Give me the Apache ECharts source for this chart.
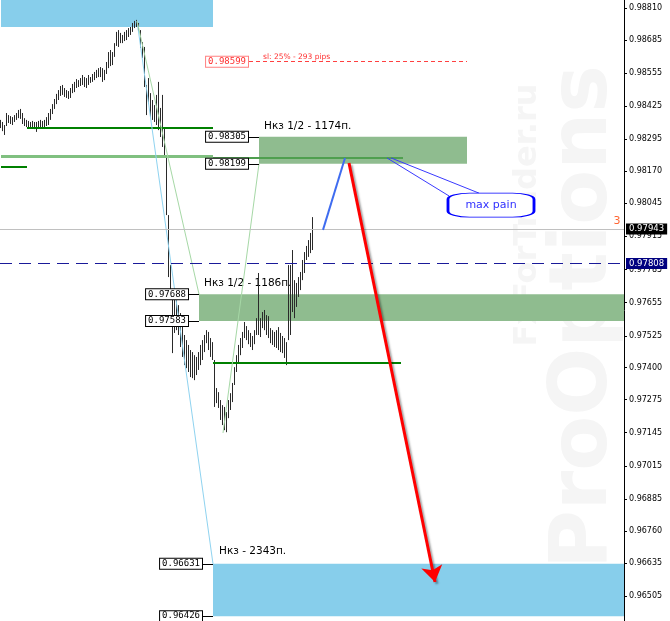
<!DOCTYPE html>
<html><head><meta charset="utf-8">
<script src="https://cdn.jsdelivr.net/npm/echarts@6.0.0/dist/echarts.min.js"></script>
<style>html,body{margin:0;padding:0;background:#fff}#c{width:670px;height:621px}</style>
</head><body><div id="c"></div>
<script>
// ---- price data (OHLC per bar) ----
const opens = [0.98351,0.98359,0.98335,0.98351,0.98386,0.98367,0.98378,0.98367,0.98382,0.98390,
0.98402,0.98386,0.98363,0.98355,0.98347,0.98359,0.98343,0.98359,0.98343,0.98351,
0.98359,0.98347,0.98363,0.98351,0.98375,0.98390,0.98406,0.98425,0.98445,0.98465,
0.98476,0.98496,0.98480,0.98469,0.98461,0.98473,0.98488,0.98504,0.98500,0.98523,
0.98508,0.98527,0.98535,0.98512,0.98520,0.98539,0.98523,0.98543,0.98551,0.98559,
0.98570,0.98547,0.98531,0.98559,0.98586,0.98625,0.98598,0.98625,0.98665,0.98708,
0.98680,0.98700,0.98684,0.98704,0.98700,0.98719,0.98716,0.98743,0.98751,0.98739,
0.98723,0.98661,0.98625,0.98500,0.98441,0.98469,0.98398,0.98386,0.98414,0.98363,
0.98402,0.98320,0.98335,0.98229,0.97990,0.97763,0.97680,0.97540,0.97630,0.97560,
0.97610,0.97500,0.97460,0.97430,0.97480,0.97400,0.97380,0.97440,0.97380,0.97430,
0.97450,0.97480,0.97500,0.97520,0.97540,0.97480,0.97450,0.97430,0.97270,0.97300,
0.97250,0.97210,0.97240,0.97170,0.97210,0.97260,0.97290,0.97340,0.97395,0.97440,
0.97480,0.97505,0.97530,0.97560,0.97520,0.97500,0.97515,0.97495,0.97540,0.97585,
0.97560,0.97580,0.97610,0.97560,0.97595,0.97530,0.97505,0.97530,0.97490,0.97535,
0.97480,0.97515,0.97470,0.97495,0.97520,0.97740,0.97620,0.97700,0.97640,0.97700,
0.97740,0.97760,0.97800,0.97840,0.97860,0.97885,0.97905];
const closes = [0.98359,0.98335,0.98343,0.98390,0.98367,0.98378,0.98363,0.98386,0.98394,0.98402,
0.98386,0.98363,0.98355,0.98347,0.98359,0.98343,0.98363,0.98343,0.98351,0.98359,
0.98347,0.98363,0.98351,0.98378,0.98394,0.98410,0.98429,0.98449,0.98469,0.98480,
0.98500,0.98480,0.98469,0.98461,0.98476,0.98492,0.98508,0.98496,0.98527,0.98508,
0.98531,0.98539,0.98512,0.98523,0.98543,0.98523,0.98547,0.98555,0.98563,0.98570,
0.98547,0.98531,0.98559,0.98590,0.98629,0.98598,0.98625,0.98665,0.98708,0.98680,
0.98700,0.98680,0.98708,0.98696,0.98723,0.98712,0.98743,0.98751,0.98739,0.98723,
0.98661,0.98625,0.98516,0.98410,0.98516,0.98398,0.98386,0.98414,0.98363,0.98402,
0.98320,0.98363,0.98237,0.98010,0.97763,0.97680,0.97520,0.97630,0.97560,0.97610,
0.97500,0.97460,0.97430,0.97480,0.97400,0.97380,0.97440,0.97370,0.97430,0.97450,
0.97480,0.97500,0.97520,0.97540,0.97480,0.97450,0.97440,0.97260,0.97300,0.97250,
0.97210,0.97240,0.97170,0.97210,0.97260,0.97290,0.97330,0.97395,0.97440,0.97480,
0.97505,0.97530,0.97570,0.97520,0.97500,0.97520,0.97480,0.97540,0.97585,0.97560,
0.97580,0.97610,0.97560,0.97595,0.97530,0.97505,0.97530,0.97490,0.97535,0.97480,
0.97515,0.97470,0.97495,0.97430,0.97740,0.97560,0.97800,0.97640,0.97720,0.97745,
0.97765,0.97815,0.97845,0.97870,0.97890,0.97915,0.97943];
const highs = [0.98371,0.98363,0.98351,0.98398,0.98390,0.98386,0.98382,0.98390,0.98398,0.98410,
0.98414,0.98398,0.98378,0.98371,0.98367,0.98363,0.98367,0.98363,0.98363,0.98367,
0.98371,0.98367,0.98371,0.98382,0.98398,0.98414,0.98433,0.98453,0.98473,0.98488,
0.98504,0.98508,0.98496,0.98488,0.98484,0.98496,0.98512,0.98520,0.98531,0.98527,
0.98535,0.98547,0.98539,0.98535,0.98547,0.98539,0.98551,0.98559,0.98567,0.98574,
0.98578,0.98574,0.98567,0.98598,0.98637,0.98645,0.98637,0.98672,0.98716,0.98723,
0.98712,0.98704,0.98716,0.98723,0.98731,0.98735,0.98751,0.98759,0.98763,0.98751,
0.98723,0.98676,0.98657,0.98508,0.98535,0.98476,0.98449,0.98429,0.98469,0.98520,
0.98418,0.98469,0.98339,0.98233,0.97998,0.97802,0.97704,0.97665,0.97665,0.97645,
0.97614,0.97567,0.97528,0.97508,0.97489,0.97469,0.97461,0.97449,0.97442,0.97461,
0.97489,0.97508,0.97528,0.97547,0.97540,0.97516,0.97500,0.97430,0.97320,0.97304,
0.97273,0.97253,0.97246,0.97226,0.97273,0.97300,0.97340,0.97402,0.97449,0.97489,
0.97516,0.97540,0.97579,0.97563,0.97547,0.97536,0.97524,0.97547,0.97594,0.97771,
0.97594,0.97618,0.97626,0.97606,0.97602,0.97555,0.97547,0.97540,0.97547,0.97559,
0.97536,0.97524,0.97516,0.97500,0.97802,0.97802,0.97861,0.97743,0.97732,0.97755,
0.97775,0.97822,0.97853,0.97877,0.97900,0.97928,0.97990];
const lows = [0.98339,0.98327,0.98312,0.98347,0.98359,0.98355,0.98351,0.98363,0.98371,0.98378,
0.98375,0.98355,0.98347,0.98343,0.98343,0.98339,0.98343,0.98335,0.98324,0.98339,
0.98343,0.98339,0.98343,0.98347,0.98351,0.98371,0.98394,0.98414,0.98433,0.98449,
0.98465,0.98469,0.98461,0.98457,0.98453,0.98457,0.98476,0.98480,0.98496,0.98500,
0.98504,0.98508,0.98500,0.98496,0.98508,0.98516,0.98520,0.98527,0.98535,0.98539,
0.98539,0.98520,0.98527,0.98551,0.98574,0.98582,0.98586,0.98618,0.98661,0.98657,
0.98672,0.98672,0.98680,0.98684,0.98696,0.98704,0.98716,0.98731,0.98735,0.98716,
0.98653,0.98614,0.98500,0.98390,0.98433,0.98382,0.98371,0.98363,0.98351,0.98331,
0.98304,0.98265,0.98226,0.97998,0.97755,0.97665,0.97457,0.97536,0.97547,0.97528,
0.97481,0.97442,0.97410,0.97398,0.97383,0.97363,0.97359,0.97351,0.97371,0.97391,
0.97410,0.97430,0.97461,0.97496,0.97469,0.97442,0.97430,0.97246,0.97261,0.97242,
0.97195,0.97175,0.97155,0.97147,0.97202,0.97234,0.97265,0.97332,0.97383,0.97422,
0.97449,0.97477,0.97516,0.97508,0.97492,0.97481,0.97469,0.97492,0.97528,0.97528,
0.97520,0.97555,0.97547,0.97528,0.97516,0.97496,0.97489,0.97481,0.97477,0.97469,
0.97461,0.97457,0.97438,0.97410,0.97508,0.97528,0.97618,0.97594,0.97638,0.97677,
0.97704,0.97743,0.97771,0.97822,0.97834,0.97849,0.97861];

// ---- axis ----
const tickValues = [0.98810,0.98685,0.98555,0.98425,0.98295,0.98170,0.98045,0.97915,0.97785,0.97655,
0.97525,0.97400,0.97275,0.97145,0.97015,0.96885,0.96760,0.96635,0.96505];
const yMin = 0.96407, yMax = 0.98841;
const barSlots = 312;
const categories = Array.from({length: barSlots}, (_, i) => 'b' + i);

// ---- levels ----
const lastPrice = 0.97943;
const bidPrice = 0.97808;
const stopLoss = 0.98599;
const upperZone = [0.98305, 0.98199];
const lowerZone = [0.97688, 0.97583];
const finalZone = [0.96631, 0.96426];
const topZone = [0.98735, 0.98841];
const greenLevels = [0.98341, 0.97418, 0.98188];
const greenBand = [0.98229, 0.98222];
const peak = [68, 0.98759];
const swingLow = [111, 0.97144];
const blueLeg = [[161, 0.97940], [172, 0.98222]];
const redLeg = [[174, 0.98202], [217, 0.96560]];
const maxPainPt = [245, 0.98037];

const candleData = opens.map((o, i) => [o, closes[i], lows[i], highs[i]]);

const G = {color: '#008000', width: 2, type: 'solid'};
function boxLabel(txt, color, border) {
  return {show: true, position: 'start', distance: 1, formatter: txt, color: color,
    fontFamily: 'DejaVu Sans Mono', fontSize: 9, backgroundColor: '#fff',
    borderColor: border, borderWidth: 1, padding: [1, 2, 0, 2]};
}
function seg(a, b, ls, label) {
  const s = {coord: a, lineStyle: ls};
  s.label = label ? label : {show: false};
  return [s, {coord: b}];
}
const fmt = v => v.toFixed(5);
const blk = {color: '#000', width: 1, type: 'solid'};

const chart = echarts.init(document.getElementById('c'));
chart.setOption({
  animation: false,
  backgroundColor: '#fff',
  grid: {left: -1, right: 46, top: 0, bottom: 0},
  xAxis: {type: 'category', data: categories, show: false, boundaryGap: true},
  yAxis: {
    type: 'value', position: 'right', min: yMin, max: yMax, scale: true,
    splitLine: {show: false},
    axisLine: {show: true, lineStyle: {color: '#000', width: 1}},
    axisTick: {show: true, length: 3, lineStyle: {color: '#000'}, customValues: tickValues},
    axisLabel: {customValues: tickValues, formatter: fmt, color: '#000', fontSize: 8,
      fontFamily: 'DejaVu Sans', margin: 5}
  },
  graphic: [
    {type: 'text', x: 585, y: 317, rotation: Math.PI / 2, z: 0, silent: true,
      style: {text: 'ProOptions', font: 'bold 80px "DejaVu Sans"', fill: '#f5f5f5', align: 'center', verticalAlign: 'middle'}},
    {type: 'text', x: 528, y: 215, rotation: Math.PI / 2, z: 0, silent: true,
      style: {text: 'FxForTrader.ru', font: 'bold 32px "DejaVu Sans"', fill: '#f5f5f5', align: 'center', verticalAlign: 'middle'}}
  ],
  series: [
    {
      type: 'line', data: [], z: 1, silent: true,
      markArea: {
        silent: true,
        data: [
          [{coord: [0, topZone[0]], itemStyle: {color: '#87ceeb'}}, {coord: [106, topZone[1]]}],
          [{coord: [106, finalZone[0]], itemStyle: {color: '#87ceeb'},
            label: {show: true, position: [6, -18], formatter: 'Нкз - 2343п.', color: '#000', fontSize: 10.5, fontFamily: 'DejaVu Sans'}},
           {coord: [Infinity, finalZone[1]]}],
          [{coord: [129, upperZone[0]], itemStyle: {color: '#8fbc8f'},
            label: {show: true, position: [5, -16], formatter: 'Нкз 1/2 - 1174п.', color: '#000', fontSize: 10.5, fontFamily: 'DejaVu Sans'}},
           {coord: [233, upperZone[1]]}],
          [{coord: [99, lowerZone[0]], itemStyle: {color: '#8fbc8f'},
            label: {show: true, position: [5, -16], formatter: 'Нкз 1/2 - 1186п.', color: '#000', fontSize: 10.5, fontFamily: 'DejaVu Sans'}},
           {coord: [Infinity, lowerZone[1]]}]
        ]
      },
      markLine: {
        silent: true, symbol: ['none', 'none'], precision: 5,
        data: [
          seg([13, greenLevels[0]], [106, greenLevels[0]], G),
          seg([106, greenLevels[1]], [200, greenLevels[1]], G),
          seg([0, greenLevels[2]], [13, greenLevels[2]], G),
          seg([0, greenBand[0]], [106, greenBand[0]], {color: '#80c080', width: 3, type: 'solid'}),
          seg([106, greenBand[1]], [201, greenBand[1]], {color: '#4f9f4f', width: 2, type: 'solid'}),
          seg(peak, [106, finalZone[0]], {color: '#8fd3f0', width: 1, type: 'solid'}),
          seg(peak, [99, lowerZone[0]], {color: '#a6d8a6', width: 1, type: 'solid'}),
          seg([129, upperZone[1]], swingLow, {color: '#a6d8a6', width: 1, type: 'solid'}),
          seg([124, upperZone[0]], [129, upperZone[0]], blk, boxLabel(fmt(upperZone[0]), '#000', '#000')),
          seg([124, upperZone[1]], [129, upperZone[1]], blk, boxLabel(fmt(upperZone[1]), '#000', '#000')),
          seg([94, lowerZone[0]], [99, lowerZone[0]], blk, boxLabel(fmt(lowerZone[0]), '#000', '#000')),
          seg([94, lowerZone[1]], [99, lowerZone[1]], blk, boxLabel(fmt(lowerZone[1]), '#000', '#000')),
          seg([101, finalZone[0]], [106, finalZone[0]], blk, boxLabel(fmt(finalZone[0]), '#000', '#000')),
          seg([101, finalZone[1]], [106, finalZone[1]], blk, boxLabel(fmt(finalZone[1]), '#000', '#000')),
          seg([124, stopLoss], [233, stopLoss], {color: '#ff4040', width: 1, type: [4, 3]},
            boxLabel(fmt(stopLoss), '#ff3030', '#ff8080')),
          seg([131, stopLoss], [233, stopLoss], {color: 'rgba(255,255,255,0)', width: 1},
            {show: true, position: 'insideStartTop', distance: [0, 1], formatter: 'sl: 25% - 293 pips',
              color: '#ff3030', fontSize: 7.5, fontFamily: 'DejaVu Sans'})
        ]
      }
    },
    {
      type: 'candlestick', data: candleData, z: 3, silent: true, barWidth: 1.2,
      itemStyle: {color: '#2a2a2a', color0: '#2a2a2a', borderColor: '#2a2a2a', borderColor0: '#2a2a2a', borderWidth: 1},
      markLine: {
        silent: true, symbol: ['none', 'none'], precision: 5,
        data: [
          {yAxis: lastPrice, lineStyle: {color: '#c0c0c0', width: 1, type: 'solid'},
            label: {show: true, position: 'end', distance: 2, formatter: fmt(lastPrice), backgroundColor: '#000',
              color: '#fff', fontSize: 8.5, fontFamily: 'DejaVu Sans', padding: [1, 3]}},
          {yAxis: bidPrice, lineStyle: {color: '#1a1a99', width: 1.2, type: [12, 7]},
            label: {show: true, position: 'end', distance: 2, formatter: fmt(bidPrice), backgroundColor: '#000080',
              color: '#fff', fontSize: 8.5, fontFamily: 'DejaVu Sans', padding: [1, 3]}}
        ]
      }
    },
    {
      type: 'line', data: [], z: 4, silent: true,
      markLine: {
        silent: true, symbol: ['none', 'none'], precision: 5,
        data: [
          seg(blueLeg[0], blueLeg[1], {color: '#3f6cf0', width: 2, type: 'solid'}),
          [{coord: redLeg[0], symbol: 'none', label: {show: false},
            lineStyle: {color: '#ff0000', width: 3, type: 'solid', shadowColor: 'rgba(0,0,0,0.35)', shadowBlur: 2, shadowOffsetX: 2, shadowOffsetY: 2}},
           {coord: redLeg[1], symbol: 'arrow', symbolSize: 16}],
          seg([193, greenBand[1]], [224, 0.98073], {color: '#3a3aff', width: 1, type: 'solid'}),
          seg([195, greenBand[1]], [239, 0.98084], {color: '#3a3aff', width: 1, type: 'solid'})
        ]
      },
      markPoint: {
        silent: true,
        data: [
          {coord: maxPainPt, symbol: 'roundRect', symbolSize: [86, 24],
            itemStyle: {color: '#fff', borderColor: '#0000ff', borderWidth: 1.5},
            label: {show: true, position: 'inside', formatter: 'max pain', color: '#3030ff', fontSize: 11, fontFamily: 'DejaVu Sans'}},
          {coord: [308, 0.97975], symbol: 'rect', symbolSize: 0,
            label: {show: true, position: 'inside', formatter: '3', color: '#ff6633', fontSize: 11, fontFamily: 'DejaVu Sans'}}
        ]
      }
    }
  ]
});
</script>
</body></html>
